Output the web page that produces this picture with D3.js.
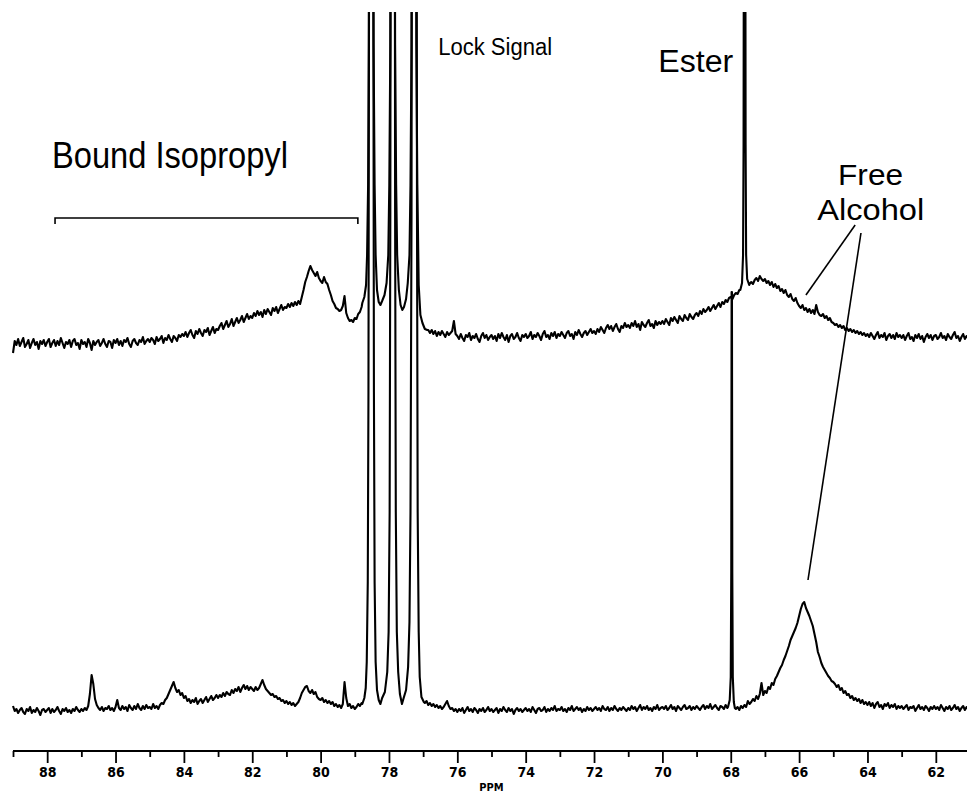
<!DOCTYPE html>
<html>
<head>
<meta charset="utf-8">
<script src="https://cdn.jsdelivr.net/npm/d3@7/dist/d3.min.js"></script>
<style>
  body { margin: 0; background: #fff; }
  svg { display: block; }
  .trace { fill: none; stroke: #000; stroke-width: 2.1; stroke-linejoin: round; }
  .label { font-family: "Liberation Sans", Arial, sans-serif; fill: #000; }
  .axis text { font-family: "DejaVu Sans Condensed", "DejaVu Sans", sans-serif; font-weight: bold; font-size: 14px; fill: #000; }
  .axis path, .axis line { stroke: #000; stroke-width: 1.8; }
</style>
</head>
<body>
<script>
var width = 967, height = 793;

// chemical shift grid of both traces (ppm): 0.05 ppm step from 89.00 down to 61.00
var ppmStart = 89.0, ppmStep = 0.05;

// upper spectrum, height above its baseline (one row = 1 ppm)
var upperTrace = [
  -8, 4, 0, 6, -1, 3, 7, -2, 1, 5, -3, 2, 6, 0, 3, -4, 4, 1, 5, -1,
  3, 6, -2, 2, 5, -1, 4, 0, 7, 2, -3, 3, 1, 5, -2, 4, 6, 0, 2, -4,
  5, 1, 3, -2, 6, 2, -5, 4, 0, 3, 5, -1, 2, 6, 1, -2, 4, 3, -3, 5,
  2, 6, 0, 4, -1, 5, 3, 7, 1, -2, 4, 6, 2, 0, 5, 3, 8, 1, 4, 6,
  3, 7, 5, 1, 8, 4, 6, 9, 2, 7, 5, 10, 6, 3, 9, 7, 4, 10, 8, 11,
  9, 13, 8, 12, 15, 10, 7, 14, 11, 16, 12, 9, 15, 13, 17, 10, 14, 18, 12, 16,
  15, 19, 22, 16, 20, 24, 18, 21, 26, 19, 23, 27, 22, 25, 29, 23, 27, 31, 26, 29,
  27, 32, 29, 34, 30, 33, 28, 35, 31, 36, 33, 30, 37, 34, 38, 32, 36, 40, 35, 38,
  37, 41, 38, 42, 39, 43, 40, 44, 41, 48, 55, 63, 68, 74, 79, 75, 72, 69, 73, 67,
  64, 62, 68, 63, 61, 55, 50, 44, 41, 37, 36, 34, 35, 39, 49, 32, 27, 24, 25, 23,
  27, 26, 31, 33, 38, 40, 40, 40, 40, 40, 40, 40, 40, 40, 40, 40, 40, 40, 40, 40,
  40, 40, 40, 40, 40, 40, 40, 40, 40, 40, 40, 40, 40, 40, 40, 40, 40, 40, 40, 40,
  20, 17, 16, 15, 12, 15, 11, 14, 9, 13, 10, 14, 11, 8, 13, 10, 12, 14, 24, 11,
  9, 6, 11, 7, 4, 10, 8, 12, 5, 9, 7, 11, 6, 3, 9, 12, 7, 10, 5, 8,
  10, 6, 9, 4, 11, 7, 12, 8, 5, 10, 3, 9, 11, 6, 8, 12, 7, 4, 10, 8,
  11, 7, 9, 13, 6, 10, 8, 12, 9, 5, 11, 14, 8, 10, 6, 12, 9, 13, 7, 11,
  9, 13, 10, 7, 12, 14, 9, 11, 6, 13, 10, 15, 11, 8, 12, 14, 10, 13, 16, 12,
  14, 11, 16, 13, 18, 15, 12, 17, 20, 16, 19, 14, 18, 21, 16, 13, 19, 17, 22, 18,
  20, 17, 22, 19, 24, 18, 21, 15, 23, 20, 18, 22, 25, 19, 21, 17, 24, 20, 23, 21,
  24, 21, 26, 23, 20, 27, 24, 28, 25, 22, 29, 26, 24, 30, 27, 25, 31, 28, 26, 30,
  32, 29, 34, 31, 36, 33, 35, 38, 34, 37, 40, 36, 39, 42, 38, 43, 41, 45, 43, 47,
  48, 46, 50, 52, 51, 55, 58, 58, 58, 58, 58, 61, 63, 61, 65, 67, 64, 69, 66, 64,
  66, 62, 64, 60, 63, 58, 61, 57, 59, 54, 56, 52, 55, 50, 48, 51, 46, 44, 47, 42,
  39, 37, 40, 35, 37, 33, 36, 32, 35, 31, 40, 33, 30, 29, 31, 27, 29, 25, 27, 23,
  22, 20, 21, 18, 20, 17, 19, 15, 17, 14, 16, 13, 15, 12, 14, 11, 13, 10, 12, 9,
  11, 8, 12, 9, 6, 10, 13, 7, 10, 8, 12, 5, 9, 11, 7, 10, 6, 12, 8, 10,
  7, 10, 5, 9, 12, 6, 8, 4, 10, 7, 11, 6, 9, 3, 8, 11, 7, 10, 5, 9,
  10, 6, 8, 12, 7, 9, 5, 11, 8, 6, 10, 13, 7, 9, 4, 8, 11, 6, 9, 7,
  8
];

// lower spectrum, height above its baseline
var lowerTrace = [
  6, 1, 3, -1, 2, 4, 0, -2, 3, 1, 5, -1, 2, 0, 4, 1, -3, 2, 3, 0,
  2, 4, -1, 3, 0, 2, 5, 1, -2, 3, 1, 4, 0, 2, -1, 3, 1, 5, 2, 0,
  3, 1, 4, 2, 6, 18, 37, 28, 13, 7, 4, 2, 5, 1, 4, 3, 6, 2, 4, 1,
  5, 12, 4, 2, 6, 3, 5, 1, 7, 4, 2, 6, 3, 8, 4, 2, 6, 3, 7, 4,
  5, 3, 8, 4, 6, 3, 7, 9, 8, 12, 14, 18, 22, 26, 30, 24, 20, 22, 17, 19,
  14, 16, 11, 13, 9, 12, 10, 14, 8, 11, 13, 9, 12, 15, 10, 13, 16, 12, 14, 17,
  14, 17, 15, 19, 16, 20, 18, 17, 22, 19, 23, 21, 25, 20, 24, 27, 23, 26, 22, 25,
  23, 21, 25, 22, 24, 28, 32, 27, 23, 21, 19, 17, 18, 15, 16, 13, 14, 11, 12, 9,
  11, 8, 10, 7, 9, 6, 8, 10, 14, 19, 22, 25, 26, 21, 19, 22, 18, 20, 15, 13,
  12, 14, 10, 12, 9, 11, 8, 10, 6, 8, 5, 7, 4, 8, 30, 14, 6, 8, 4, 6,
  3, 5, 8, 6, 9, 10, 10, 10, 10, 10, 10, 10, 10, 10, 10, 10, 10, 10, 10, 10,
  10, 10, 10, 10, 10, 10, 10, 10, 10, 10, 10, 10, 10, 10, 10, 10, 10, 10, 10, 10,
  10, 9, 11, 7, 9, 6, 8, 5, 7, 4, 6, 3, 5, 8, 11, 6, 3, 4, 1, 3,
  0, 3, 1, 4, -1, 2, 5, 1, 3, 0, 4, 2, -1, 3, 1, 4, 0, 2, 5, 1,
  3, 0, 2, 4, -1, 3, 1, 5, 2, 0, 4, 1, 3, -2, 2, 4, 1, 3, 0, 2,
  4, 1, 3, 0, 5, 2, -1, 3, 4, 1, 2, 5, 0, 3, 1, 4, 2, 6, 1, 3,
  2, 5, 1, 3, 0, 4, 2, 6, 1, 3, 5, 2, 4, 0, 3, 1, 5, 2, 4, 1,
  3, 5, 2, 4, 1, 6, 3, 2, 5, 1, 4, 2, 6, 3, 1, 4, 2, 5, 3, 1,
  4, 2, 6, 3, 5, 1, 4, 7, 2, 5, 3, 6, 2, 4, 1, 5, 3, 7, 2, 4,
  5, 3, 6, 2, 4, 7, 3, 5, 1, 6, 4, 2, 5, 7, 3, 4, 6, 2, 5, 3,
  6, 4, 2, 5, 7, 3, 6, 4, 8, 3, 5, 7, 4, 2, 6, 5, 3, 7, 4, 6,
  5, 5, 5, 3, 5, 2, 6, 4, 7, 5, 11, 8, 10, 13, 11, 16, 13, 18, 29, 17,
  21, 19, 25, 23, 29, 27, 33, 36, 40, 44, 47, 52, 56, 61, 66, 72, 76, 80, 84, 89,
  96, 103, 108, 110, 104, 100, 96, 91, 86, 78, 70, 60, 55, 49, 45, 42, 39, 36, 34, 31,
  30, 28, 25, 27, 22, 24, 19, 21, 17, 18, 14, 16, 12, 14, 11, 13, 9, 12, 8, 10,
  7, 10, 6, 9, 4, 8, 10, 5, 7, 3, 8, 6, 9, 4, 7, 5, 8, 3, 6, 4,
  6, 3, 5, 7, 2, 5, 4, 6, 1, 4, 7, 3, 5, 2, 6, 4, 1, 5, 3, 6,
  3, 5, 2, 7, 4, 1, 5, 3, 6, 2, 4, 7, 3, 5, 1, 4, 6, 2, 5, 3,
  4
];

// narrow lines read point by point: [ppm, height]
var upperLock = [
  [78.78, 42], [78.72, 48], [78.67, 60], [78.64, 90], [78.61, 160], [78.59, 300], [78.57, 600], [78.55, 1000],
  [78.49, 1000], [78.47, 600], [78.45, 300], [78.42, 160], [78.39, 90], [78.35, 55], [78.30, 43], [78.25, 40], [78.20, 44],
  [78.13, 50], [78.07, 62], [78.02, 90], [77.99, 160], [77.96, 300], [77.94, 600], [77.92, 1000],
  [77.86, 1000], [77.84, 600], [77.82, 300], [77.79, 160], [77.76, 90], [77.71, 55], [77.66, 40], [77.61, 35], [77.56, 38],
  [77.50, 46], [77.45, 62], [77.40, 90], [77.37, 160], [77.34, 300], [77.32, 600], [77.30, 1000],
  [77.24, 1000], [77.22, 600], [77.20, 300], [77.17, 160], [77.13, 60], [77.08, 30], [77.02, 22], [76.95, 16], [76.88, 15]
];
var upperEster = [
  [67.72, 55], [67.67, 62], [67.64, 90], [67.625, 200], [67.615, 500], [67.605, 1000],
  [67.585, 1000], [67.575, 500], [67.565, 200], [67.55, 90], [67.52, 66], [67.46, 60]
];
var lowerLock = [
  [78.78, 8], [78.72, 14], [78.68, 24], [78.65, 50], [78.62, 130], [78.60, 320], [78.58, 800], [78.56, 2000],
  [78.48, 2000], [78.46, 800], [78.44, 320], [78.42, 130], [78.39, 50], [78.35, 22], [78.30, 12], [78.25, 8], [78.20, 14],
  [78.12, 20], [78.05, 40], [78.01, 80], [77.98, 200], [77.96, 500], [77.94, 1200], [77.92, 2000],
  [77.86, 2000], [77.84, 1200], [77.82, 500], [77.80, 200], [77.77, 80], [77.73, 40], [77.68, 18], [77.62, 8], [77.57, 14],
  [77.50, 22], [77.44, 45], [77.40, 90], [77.37, 200], [77.34, 500], [77.32, 1200], [77.30, 2000],
  [77.22, 2000], [77.20, 1200], [77.18, 500], [77.16, 200], [77.13, 80], [77.10, 35], [77.05, 15], [76.98, 10]
];
var lowerEster = [
  [68.08, 5], [68.03, 12], [68.00, 35], [67.985, 140], [67.975, 420],
  [67.965, 420], [67.955, 140], [67.94, 35], [67.91, 10], [67.88, 4]
];

var majorTicks = [88, 86, 84, 82, 80, 78, 76, 74, 72, 70, 68, 66, 64, 62];
var minorTicks = [89, 87, 85, 83, 81, 79, 77, 75, 73, 71, 69, 67, 65, 63, 61];

var svg = d3.select("body").append("svg").attr("width", width).attr("height", height);

var x = d3.scaleLinear().domain([89, 61]).range([13, 970]);
var yUpper = d3.scaleLinear().domain([0, 100]).range([345, 245]);
var yLower = d3.scaleLinear().domain([0, 100]).range([712, 612]);

svg.append("defs").append("clipPath").attr("id", "plot")
  .append("rect").attr("x", 0).attr("y", 12).attr("width", width).attr("height", 740);

// grid samples, with the hand-read narrow lines replacing the samples they cover
function buildTrace(values, spikes) {
  var pts = values.map(function(v, i) { return [+(ppmStart - i * ppmStep).toFixed(2), v]; });
  spikes.forEach(function(s) {
    var hi = d3.max(s, function(d) { return d[0]; }), lo = d3.min(s, function(d) { return d[0]; });
    pts = pts.filter(function(p) { return p[0] > hi || p[0] < lo; }).concat(s);
  });
  return pts.sort(function(a, b) { return b[0] - a[0]; });
}

var g = svg.append("g").attr("clip-path", "url(#plot)");

g.append("path").attr("class", "trace")
  .datum(buildTrace(upperTrace, [upperLock, upperEster]))
  .attr("d", d3.line().x(function(d) { return x(d[0]); }).y(function(d) { return yUpper(d[1]); }));

g.append("path").attr("class", "trace")
  .datum(buildTrace(lowerTrace, [lowerLock, lowerEster]))
  .attr("d", d3.line().x(function(d) { return x(d[0]); }).y(function(d) { return yLower(d[1]); }));

// ppm axis
var axisY = 751;
svg.append("g").attr("class", "axis").attr("transform", "translate(0," + axisY + ")")
  .call(d3.axisBottom(x).tickValues(majorTicks).tickSize(12).tickSizeOuter(0).tickPadding(4).tickFormat(d3.format("d")));
svg.append("g").attr("class", "axis").attr("transform", "translate(0," + axisY + ")")
  .call(d3.axisBottom(x).tickValues(minorTicks).tickSize(6).tickSizeOuter(0).tickFormat(""));
svg.selectAll(".axis .domain").attr("d", "M" + x(89) + ",0H" + width);

svg.append("text")
  .attr("x", x(75)).attr("y", 791).attr("text-anchor", "middle")
  .style("font-family", "'DejaVu Sans Condensed', 'DejaVu Sans', sans-serif")
  .style("font-weight", "bold").style("font-size", "11px")
  .text("PPM");

// annotations
function label(txt, px, py, size, len) {
  svg.append("text").attr("class", "label")
    .attr("x", x(px)).attr("y", py)
    .attr("textLength", len).attr("lengthAdjust", "spacingAndGlyphs")
    .style("font-size", size + "px")
    .text(txt);
}
label("Bound Isopropyl", 87.86, 168, 37, 236);
label("Lock Signal", 76.56, 55, 23, 114);
label("Ester", 70.12, 72, 31, 75);
label("Free", 64.86, 185, 29, 65);
label("Alcohol", 65.47, 220, 29, 107);

// bracket over the bound isopropyl region
svg.append("path")
  .attr("d", "M" + x(87.77) + ",224V218H" + x(78.91) + "V224")
  .attr("fill", "none").attr("stroke", "#000").attr("stroke-width", 1.6);

// leader lines for free alcohol: [ppm, y]
var leaders = [
  [[64.36, 225], [65.80, 295]],
  [[64.19, 233], [65.74, 580]]
];
svg.selectAll(".leader").data(leaders).enter().append("line")
  .attr("x1", function(d) { return x(d[0][0]); }).attr("y1", function(d) { return d[0][1]; })
  .attr("x2", function(d) { return x(d[1][0]); }).attr("y2", function(d) { return d[1][1]; })
  .attr("stroke", "#000").attr("stroke-width", 1.6);
</script>
</body>
</html>
